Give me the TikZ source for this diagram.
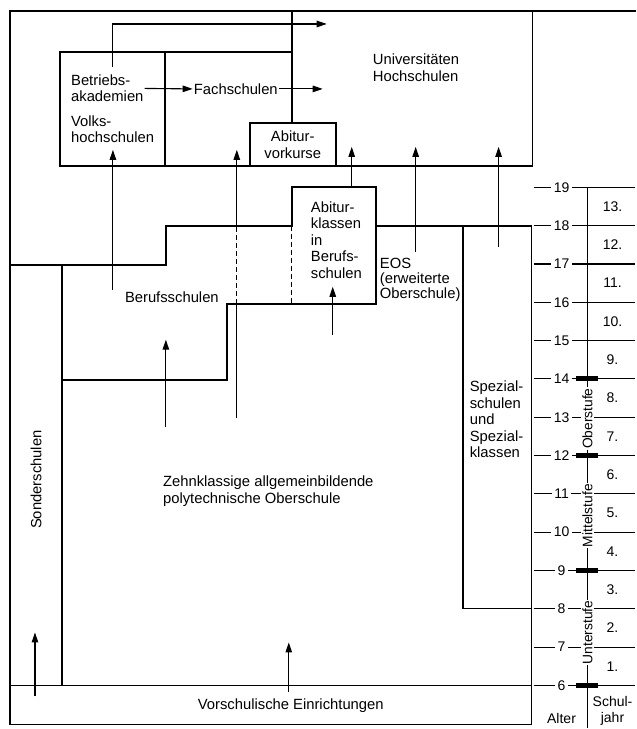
\documentclass[tikz,border=0pt]{standalone}
\usepackage{fontspec}
\setmainfont{Liberation Sans}
\usetikzlibrary{arrows.meta,positioning}
\tikzset{
  wall/.style  ={line width=1.8pt,line cap=rect},
  ar/.style    ={line width=1.1pt,-{Triangle[length=10pt,width=6.5pt]}},
  shaft/.style ={line width=1.1pt},
  dashln/.style={line width=1.1pt,dash pattern=on 5pt off 3pt},
  lbl/.style   ={font=\fontsize{14.8}{16.5}\selectfont,inner sep=1pt,align=left},
  agel/.style  ={line width=1.2pt},
  num/.style   ={font=\fontsize{14}{15}\selectfont,inner sep=2.5pt,fill=white},
  stage/.style ={font=\fontsize{13.8}{15}\selectfont,inner sep=1pt,fill=white,rotate=90},
}
\begin{document}
\begin{tikzpicture}[x=1pt,y=-1pt]
  \fill[white] (0,0) rectangle (636,729);
  % upper block: academies, Fachschulen, universities
  \draw[wall] (10,725) -- (10,11) -- (636,11);
  \draw[wall] (60,166) -- (60,52) -- (292,52);
  \draw[wall] (165,52) -- (165,166);
  \draw[wall] (292,11) -- (292,123);
  \draw[wall] (250,166) -- (250,123) -- (336,123) -- (336,166);
  \draw[wall] (60,166) -- (533,166) -- (533,11);
  \node[lbl,anchor=west] (betr) at (70,88.5) {Betriebs-\\akademien};
  \node[lbl,anchor=west] (volks) at (70,129.5) {Volks-\\hochschulen};
  \node[lbl] (fach) at (236,89) {Fachschulen};
  \node[lbl,anchor=west] (uni) at (372,68) {Universitäten\\Hochschulen};
  \node[lbl,align=center] (vork) at (293,145) {Abitur-\\vorkurse};
  \draw[ar] (betr.east) -- (fach.west);
  \coordinate (fachout) at (323,89);
  \draw[ar] (fach.east) -- (fachout);
  \coordinate (betrtop) at (113,67);
  \coordinate (unitop) at (327,24);
  \draw[ar] (betrtop) |- (unitop);
  % middle: Berufsschulen, Abiturklassen, EOS, Spezialschulen
  \draw[wall] (10,265) -- (166,265) -- (166,226) -- (292,226) -- (292,187)
    -- (376,187) -- (376,304) -- (227,304) -- (227,380) -- (62,380);
  \draw[wall] (376,226) -- (532,226) -- (532,725);
  \draw[wall] (463,226) -- (463,609) -- (532,609);
  \draw[wall] (62,265) -- (62,686);
  \draw[dashln] (292,226) -- (292,304);
  \node[lbl] (beruf) at (172,297) {Berufsschulen};
  \node[lbl,anchor=west] (abikl) at (310,240) {Abitur-\\klassen\\in\\Berufs-\\schulen};
  \node[lbl,anchor=west,font=\fontsize{14.8}{14.8}\selectfont] (eos) at (379,280) {EOS\\(erweiterte\\Oberschule)};
  \node[lbl,anchor=west] (spez) at (469,420) {Spezial-\\schulen\\und\\Spezial-\\klassen};
  \draw[ar] (113,290) -- (113,150);
  \draw[shaft] (237,418) -- (237,304);
  \draw[dashln] (237,304) -- (237,226);
  \draw[ar] (237,226) -- (237,150);
  \draw[ar] (166,427) -- (166,340);
  \draw[ar] (333,335) -- (333,287);
  \draw[ar] (352,187) -- (352,147);
  \draw[ar] (416,252) -- (416,147);
  \draw[ar] (499,247) -- (499,147);
  % lower: Oberschule, Sonderschulen, Vorschule
  \draw[wall] (10,686) -- (532,686);
  \draw[wall] (10,725) -- (532,725);
  \node[lbl,anchor=west] (zehn) at (162,491.5) {Zehnklassige allgemeinbildende\\polytechnische Oberschule};
  \node[lbl,rotate=90] (sond) at (36,480) {Sonderschulen};
  \node[lbl] (vorsch) at (291,706) {Vorschulische Einrichtungen};
  \draw[ar] (35,697) -- (35,633);
  \draw[ar] (289,693) -- (289,643);
  % scale: age and school year
  \draw[agel] (588,187) -- (588,729);
  \foreach \a [evaluate=\a as \yy using 686-(\a-6)*38.35] in {6,...,19}{
    \draw[agel] (534,\yy) -- (636,\yy);
    \node[num] (age\a) at (562,\yy) {\a};}
  \foreach \n [evaluate=\n as \yy using 686-(\n-0.5)*38.35] in {1,...,13}
    \node[num,fill=none] (jahr\n) at (613,\yy) {\n.};
  \foreach \a [evaluate=\a as \yy using 686-(\a-6)*38.35] in {6,9,12,14}
    \fill (576,\yy-2.6) rectangle (598,\yy+2.6);
  \node[stage] (ober) at (588,419) {Oberstufe};
  \node[stage] (mittel) at (588,516) {Mittelstufe};
  \node[stage] (unter) at (588,633) {Unterstufe};
  \node[num,fill=none] (alter) at (562,719) {Alter};
  \node[num,fill=none,align=center,font=\fontsize{14}{16}\selectfont] (schul) at (613,711) {Schul-\\jahr};
\end{tikzpicture}
\end{document}
